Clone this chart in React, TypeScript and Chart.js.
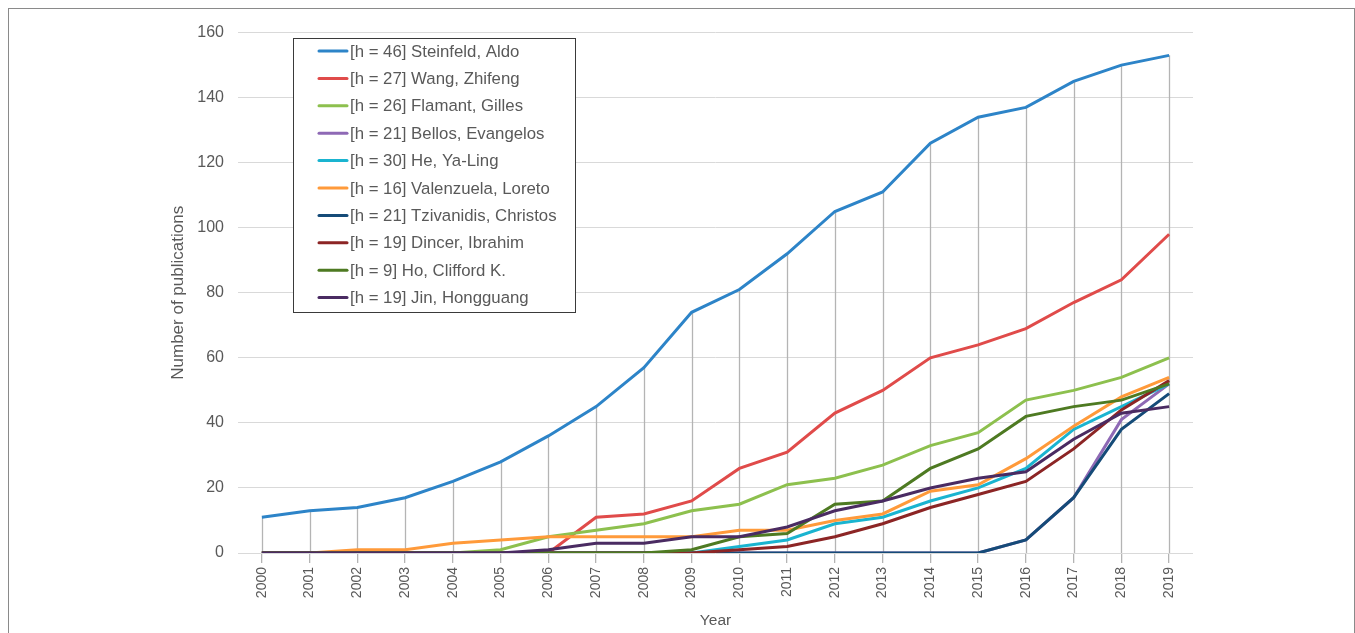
import React, { useEffect, useRef } from "react";
import { Chart, registerables } from "chart.js";

Chart.register(...registerables);

const years = ["2000","2001","2002","2003","2004","2005","2006","2007","2008","2009","2010","2011","2012","2013","2014","2015","2016","2017","2018","2019"];

const seriesNames = [
  "[h = 46] Steinfeld, Aldo",
  "[h = 27] Wang, Zhifeng",
  "[h = 26] Flamant, Gilles",
  "[h = 21] Bellos, Evangelos",
  "[h = 30] He, Ya-Ling",
  "[h = 16] Valenzuela, Loreto",
  "[h = 21] Tzivanidis, Christos",
  "[h = 19] Dincer, Ibrahim",
  "[h = 9] Ho, Clifford K.",
  "[h = 19] Jin, Hongguang",
];

const steinfeld = [11, 13, 14, 17, 22, 28, 36, 45, 57, 74, 81, 92, 105, 111, 126, 134, 137, 145, 150, 153];
const wang = [0, 0, 0, 0, 0, 0, 0, 11, 12, 16, 26, 31, 43, 50, 60, 64, 69, 77, 84, 98];
const flamant = [0, 0, 0, 0, 0, 1, 5, 7, 9, 13, 15, 21, 23, 27, 33, 37, 47, 50, 54, 60];
const bellos = [0, 0, 0, 0, 0, 0, 0, 0, 0, 0, 0, 0, 0, 0, 0, 0, 4, 17, 41, 52];
const he = [0, 0, 0, 0, 0, 0, 0, 0, 0, 0, 2, 4, 9, 11, 16, 20, 26, 38, 45, 52];
const valenzuela = [0, 0, 1, 1, 3, 4, 5, 5, 5, 5, 7, 7, 10, 12, 19, 21, 29, 39, 48, 54];
const tzivanidis = [0, 0, 0, 0, 0, 0, 0, 0, 0, 0, 0, 0, 0, 0, 0, 0, 4, 17, 38, 49];
const dincer = [0, 0, 0, 0, 0, 0, 0, 0, 0, 0, 1, 2, 5, 9, 14, 18, 22, 32, 44, 53];
const ho = [0, 0, 0, 0, 0, 0, 0, 0, 0, 1, 5, 6, 15, 16, 26, 32, 42, 45, 47, 52];
const jin = [0, 0, 0, 0, 0, 0, 1, 3, 3, 5, 5, 8, 13, 16, 20, 23, 25, 35, 43, 45];

const seriesValues = [steinfeld, wang, flamant, bellos, he, valenzuela, tzivanidis, dincer, ho, jin];
const seriesColors = ["#2D84C8", "#E04B4A", "#8DC04E", "#8E69B5", "#1AB4D0", "#FF9A3A", "#154B78", "#8C2525", "#4E7A22", "#4A2B62"];

const FONT = "'Liberation Sans', Arial, sans-serif";
const TEXT = "#595959";

const dropLines = {
  id: "dropLines",
  beforeDatasetsDraw(chart: any) {
    const { ctx, chartArea, scales } = chart;
    const xs = scales.x;
    const ys = scales.y;
    ctx.save();
    ctx.strokeStyle = "#B4B4B4";
    ctx.lineWidth = 1.3;
    for (let i = 0; i < years.length; i++) {
      let maxV = 0;
      chart.data.datasets.forEach((d: any) => { if (d.data[i] > maxV) maxV = d.data[i]; });
      const x = Math.round(xs.getPixelForValue(i)) + 0.5;
      ctx.beginPath();
      ctx.moveTo(x, ys.getPixelForValue(maxV));
      ctx.lineTo(x, chartArea.bottom);
      ctx.stroke();
    }
    ctx.restore();
  },
};

const boxLegend = {
  id: "boxLegend",
  afterDraw(chart: any) {
    const ctx = chart.ctx;
    const bx = 284, by = 29, bw = 282, bh = 274;
    ctx.save();
    ctx.fillStyle = "#FFFFFF";
    ctx.fillRect(bx, by, bw, bh);
    ctx.strokeStyle = "#3A3A3A";
    ctx.lineWidth = 1;
    ctx.strokeRect(bx + 0.5, by + 0.5, bw, bh);
    ctx.font = `16.8px ${FONT}`;
    ctx.textBaseline = "middle";
    ctx.textAlign = "left";
    chart.data.datasets.forEach((d: any, i: number) => {
      const y = by + 13 + i * 27.4;
      ctx.strokeStyle = d.borderColor;
      ctx.lineWidth = 3;
      ctx.lineCap = "round";
      ctx.beginPath();
      ctx.moveTo(310, y);
      ctx.lineTo(338, y);
      ctx.stroke();
      ctx.fillStyle = TEXT;
      ctx.fillText(d.label, 341, y + 1);
    });
    ctx.restore();
  },
};

export default function App() {
  const ref = useRef<HTMLCanvasElement>(null);
  useEffect(() => {
    document.documentElement.style.overflow = "hidden";
    document.body.style.overflow = "hidden";
    if (!ref.current) return;
    const chart = new Chart(ref.current, {
      type: "line",
      data: {
        labels: years,
        datasets: seriesValues.map((vals, i) => ({
          label: seriesNames[i],
          data: vals,
          borderColor: seriesColors[i],
          backgroundColor: seriesColors[i],
          borderWidth: 3,
          pointRadius: 0,
          tension: 0,
          order: seriesValues.length - i,
        })),
      },
      options: {
        animation: false,
        responsive: false,
        maintainAspectRatio: false,
        layout: { padding: { left: 155, right: 160, top: 22, bottom: 0 } },
        plugins: {
          legend: { display: false },
          tooltip: { enabled: false },
        },
        scales: {
          x: {
            offset: true,
            grid: { drawOnChartArea: false, drawTicks: true, tickLength: 10, color: "#B4B4B4", lineWidth: 1.3 },
            border: { display: false },
            ticks: { minRotation: 90, maxRotation: 90, autoSkip: false, padding: 4, color: TEXT, font: { family: FONT, size: 14 } },
            title: { display: true, text: "Year", color: TEXT, font: { family: FONT, size: 15.5 }, padding: { top: 2, bottom: 4 } },
            afterFit: (s: any) => { s.height = 81; },
          },
          y: {
            min: 0,
            max: 160,
            ticks: { stepSize: 20, padding: 14, color: TEXT, font: { family: FONT, size: 16 } },
            grid: { color: "#D9D9D9", lineWidth: 1, drawTicks: false },
            border: { display: false },
            title: { display: true, text: "Number of publications", color: TEXT, font: { family: FONT, size: 17 }, padding: { top: 4, bottom: 4 } },
            afterFit: (s: any) => { s.width = 74; },
          },
        },
      },
      plugins: [dropLines, boxLegend],
    });
    return () => chart.destroy();
  }, []);
  return (
    <div style={{ position: "absolute", left: 8, top: 8, width: 1345, height: 640, border: "1px solid #8A8A8A", background: "#fff", overflow: "hidden" }}>
      <canvas ref={ref} width={1344} height={625} style={{ display: "block", width: 1344, height: 625 }} />
    </div>
  );
}
